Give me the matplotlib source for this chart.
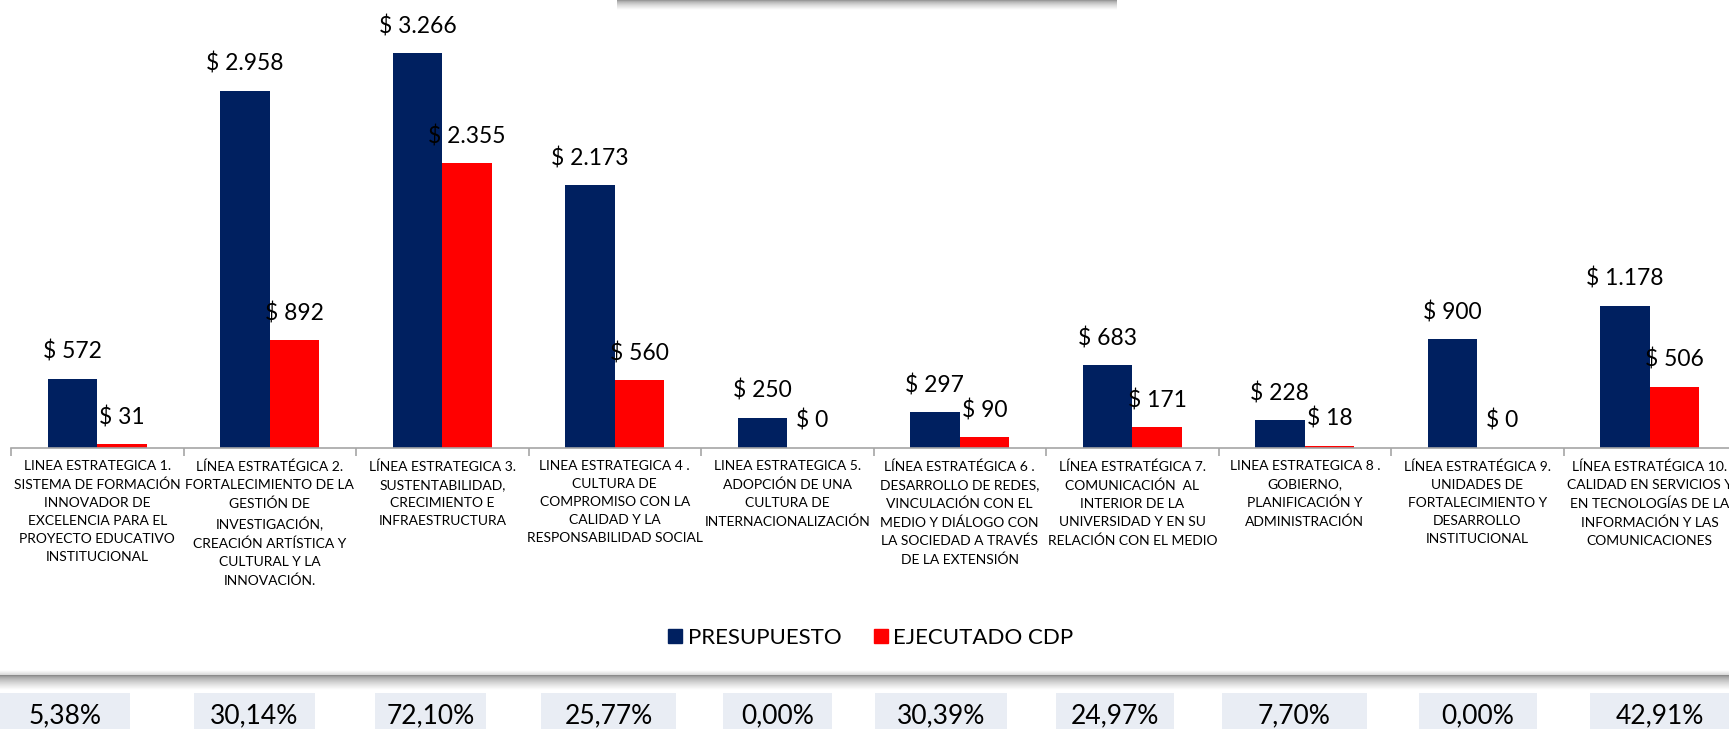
"""Presupuesto vs ejecutado CDP por línea estratégica (barras agrupadas)."""

import matplotlib

matplotlib.use("Agg")
import matplotlib.pyplot as plt
import numpy as np
from matplotlib.lines import Line2D
from matplotlib.patches import Rectangle

plt.rcParams["font.family"] = ["Lato", "DejaVu Sans"]

categorias = [
    "LINEA ESTRATEGICA 1.\nSISTEMA DE FORMACIÓN\nINNOVADOR DE\nEXCELENCIA PARA EL\nPROYECTO EDUCATIVO\nINSTITUCIONAL",
    "LÍNEA ESTRATÉGICA 2.\nFORTALECIMIENTO DE LA\nGESTIÓN DE\nINVESTIGACIÓN,\nCREACIÓN ARTÍSTICA Y\nCULTURAL Y LA\nINNOVACIÓN.",
    "LÍNEA ESTRATEGICA 3.\nSUSTENTABILIDAD,\nCRECIMIENTO E\nINFRAESTRUCTURA",
    "LINEA ESTRATEGICA 4 .\nCULTURA DE\nCOMPROMISO CON LA\nCALIDAD Y LA\nRESPONSABILIDAD SOCIAL",
    "LINEA ESTRATEGICA 5.\nADOPCIÓN DE UNA\nCULTURA DE\nINTERNACIONALIZACIÓN",
    "LÍNEA ESTRATÉGICA 6 .\nDESARROLLO DE REDES,\nVINCULACIÓN CON EL\nMEDIO Y DIÁLOGO CON\nLA SOCIEDAD A TRAVÉS\nDE LA EXTENSIÓN",
    "LÍNEA ESTRATÉGICA 7.\nCOMUNICACIÓN  AL\nINTERIOR DE LA\nUNIVERSIDAD Y EN SU\nRELACIÓN CON EL MEDIO",
    "LINEA ESTRATEGICA 8 .\nGOBIERNO,\nPLANIFICACIÓN Y\nADMINISTRACIÓN",
    "LÍNEA ESTRATÉGICA 9.\nUNIDADES DE\nFORTALECIMIENTO Y\nDESARROLLO\nINSTITUCIONAL",
    "LÍNEA ESTRATÉGICA 10.\nCALIDAD EN SERVICIOS Y\nEN TECNOLOGÍAS DE LA\nINFORMACIÓN Y LAS\nCOMUNICACIONES",
]
presupuesto = [572, 2958, 3266, 2173, 250, 297, 683, 228, 900, 1178]
ejecutado = [31, 892, 2355, 560, 0, 90, 171, 18, 0, 506]
porcentajes = ["5,38%", "30,14%", "72,10%", "25,77%", "0,00%",
               "30,39%", "24,97%", "7,70%", "0,00%", "42,91%"]

# layout of the percentage boxes under the chart (left, right in pixels)
cajas_px = [(0, 130), (194, 315), (375, 486), (541, 676), (723, 832),
            (875, 1007), (1056, 1174), (1222, 1367), (1419, 1537), (1590, 1729)]

AZUL = "#002060"
ROJO = "#FF0000"
W, H = 1729, 729


def fmt(v):
    return "$ " + f"{v:,}".replace(",", ".")


fig = plt.figure(figsize=(W / 100, H / 100), dpi=100)

# main chart: axis from x=11 px to 1736 px (last category runs off the edge)
left, right = 11, 1736
base_y, top_y = 448, 13
ax = fig.add_axes([left / W, (H - base_y) / H, (right - left) / W, (base_y - top_y) / H])

x = np.arange(len(categorias))
bw = 0.288
ax.bar(x - bw / 2, presupuesto, bw, color=AZUL, label="PRESUPUESTO")
ax.bar(x + bw / 2, ejecutado, bw, color=ROJO, label="EJECUTADO CDP")

for xi, v in zip(x - bw / 2, presupuesto):
    ax.annotate(fmt(v), (xi, v), xytext=(0, 20), textcoords="offset pixels",
                ha="center", va="baseline", fontsize=16.5)
for xi, v in zip(x + bw / 2, ejecutado):
    ax.annotate(fmt(v), (xi, v), xytext=(0, 20), textcoords="offset pixels",
                ha="center", va="baseline", fontsize=16.5)

ax.set_xlim(-0.5, len(categorias) - 0.5)
ax.set_ylim(0, 3600)
ax.set_yticks([])
for s in ["top", "right", "left"]:
    ax.spines[s].set_visible(False)
ax.spines["bottom"].set_color("#A6A6A6")
ax.spines["bottom"].set_linewidth(1.2)

ax.set_xticks(x)
ax.set_xticklabels(categorias, fontsize=10, linespacing=1.6, va="top")
ax.tick_params(axis="x", which="major", length=0, pad=9)
ax.set_xticks(np.arange(-0.5, len(categorias)), minor=True)
ax.tick_params(axis="x", which="minor", length=6, width=1.2, color="#A6A6A6")

# legend
handles = [
    Line2D([], [], marker="s", linestyle="none", markersize=10,
           markerfacecolor=AZUL, markeredgecolor=AZUL, label="PRESUPUESTO"),
    Line2D([], [], marker="s", linestyle="none", markersize=10,
           markerfacecolor=ROJO, markeredgecolor=ROJO, label="EJECUTADO CDP"),
]
fig.legend(handles=handles, loc="center", bbox_to_anchor=(870 / W, 1 - 638 / H),
           ncol=2, frameon=False, fontsize=16, handletextpad=0.15,
           columnspacing=1.4, handlelength=0.8)

# decorations in pixel coordinates
deco = fig.add_axes([0, 0, 1, 1], zorder=-1)
deco.set_xlim(0, W)
deco.set_ylim(H, 0)
deco.axis("off")

# shadow band between chart and percentages
grad = np.linspace(0, 1, 50)
band = np.clip(0.50 + 0.5 * grad ** 0.6, 0, 1)
band_img = np.tile(band[:, None], (1, 10))
deco.imshow(band_img, extent=(0, W, 690, 675), cmap="gray", vmin=0, vmax=1,
            aspect="auto", interpolation="bilinear")
above = np.linspace(1, 0.85, 10)
deco.imshow(np.tile(above[:, None], (1, 10)), extent=(0, W, 675, 670), cmap="gray",
            vmin=0, vmax=1, aspect="auto", interpolation="bilinear")

# shadow of the title box cut at the top
top_band = np.clip(0.55 + 0.45 * np.linspace(0, 1, 30) ** 0.6, 0, 1)
deco.imshow(np.tile(top_band[:, None], (1, 10)), extent=(617, 1117, 10, 0), cmap="gray",
            vmin=0, vmax=1, aspect="auto", interpolation="bilinear")

# percentage boxes
for (x0, x1), txt in zip(cajas_px, porcentajes):
    deco.add_patch(Rectangle((x0, 693), x1 - x0, 40, facecolor="#E9EDF4", edgecolor="none"))
    deco.text((x0 + x1) / 2, 716, txt, ha="center", va="center", fontsize=19)

fig.savefig("out.png", dpi=100)
